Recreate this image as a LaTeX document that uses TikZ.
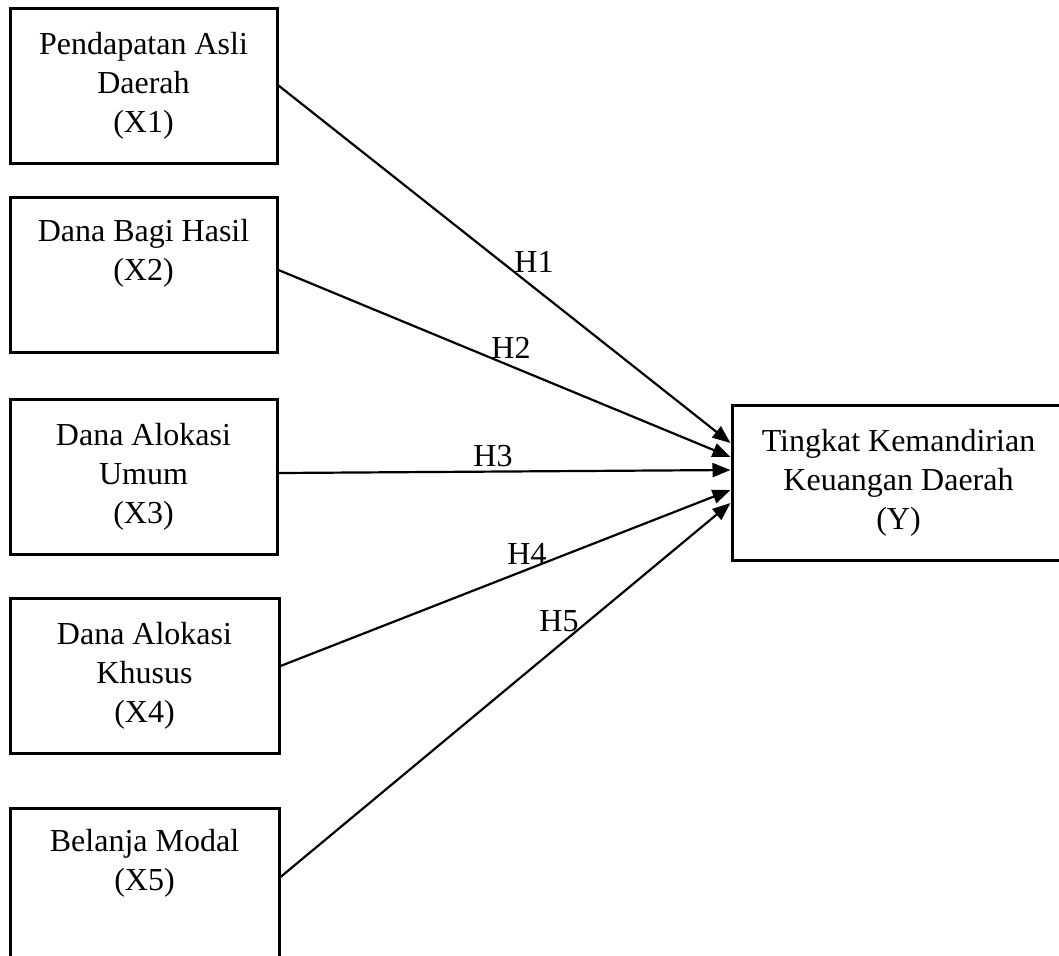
\documentclass[tikz,border=0pt]{standalone}
\usepackage{fontspec}
\setmainfont{Liberation Serif}
\usetikzlibrary{arrows.meta}
\tikzset{
  varbox/.style  ={rectangle, draw=black, line width=1.5pt, minimum width=133.5pt,
                   minimum height=77.5pt, inner sep=0pt, align=center,
                   font=\fontsize{16}{19.5}\selectfont},
  hyparrow/.style={-{Triangle[length=9pt,width=7pt]}, line width=1.1pt},
  hyplabel/.style={inner sep=0pt, font=\fontsize{16}{19.5}\selectfont},
}

\begin{document}
\begin{tikzpicture}[x=0.5pt, y=-0.5pt]
        \useasboundingbox (0,0) rectangle (1059,955);
        \clip (0,0) rectangle (1059,955);
        % variabel independen
        \node[varbox] (x1) at (143.5,85.5) {Pendapatan Asli\\Daerah\\(X1)};
        \node[varbox] (x2) at (143.5,275) {Dana Bagi Hasil\\(X2)\\[6pt]\mbox{}};
        \node[varbox] (x3) at (143.5,476.5) {Dana Alokasi\\Umum\\(X3)};
        \node[varbox, minimum width=134.5pt] (x4) at (144.5,676) {Dana Alokasi\\Khusus\\(X4)};
        \node[varbox, minimum width=134.5pt] (x5) at (144.5,885.5) {Belanja Modal\\(X5)\\[6pt]\mbox{}};
        % variabel dependen
        \node[varbox, minimum width=166.5pt] (y) at (898.5,482.5) {Tingkat Kemandirian\\Keuangan Daerah\\(Y)};
        % hipotesis
        \draw[hyparrow] (x1.east) -- ([yshift=19.75pt]y.west);
        \draw[hyparrow] ([yshift=2.5pt]x2.east) -- ([yshift=12.75pt]y.west);
        \draw[hyparrow] ([yshift=1.75pt]x3.east) -- ([yshift=6.25pt]y.west);
        \draw[hyparrow] ([yshift=5pt]x4.east) -- ([yshift=-3.75pt]y.west);
        \draw[hyparrow] ([yshift=4.25pt]x5.east) -- ([yshift=-10.25pt]y.west);
        \node[hyplabel] (h1) at (534,262) {H1};
        \node[hyplabel] (h2) at (511,348) {H2};
        \node[hyplabel] (h3) at (493,456) {H3};
        \node[hyplabel] (h4) at (527,554) {H4};
        \node[hyplabel] (h5) at (559,621) {H5};
    \end{tikzpicture}
\end{document}
